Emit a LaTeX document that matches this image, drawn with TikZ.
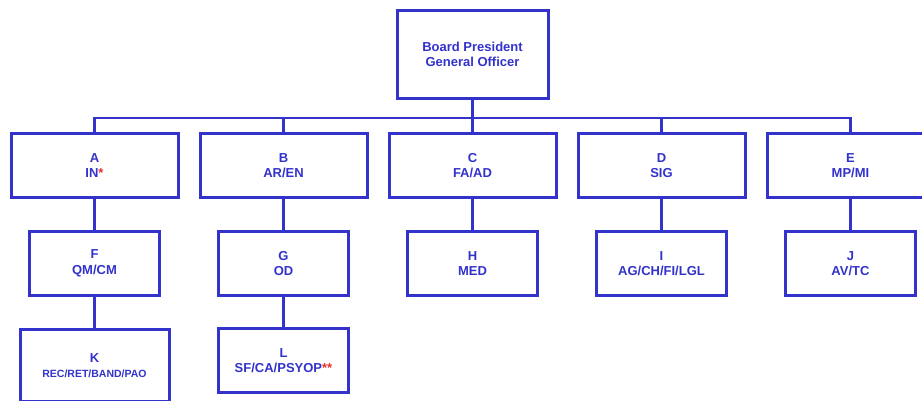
\documentclass[tikz,border=0pt]{standalone}
\usepackage{fontspec}
\setmainfont{Liberation Sans}
\usetikzlibrary{positioning}

\definecolor{orgblue}{RGB}{51,51,204}
\definecolor{starred}{RGB}{235,45,45}
\newcommand{\starmark}[1]{\textcolor{starred}{#1}}

\begin{document}
\begin{tikzpicture}[
    x=1pt, y=1pt,
    font=\fontsize{13}{15.5}\selectfont\bfseries,
    box/.style={draw=orgblue, line width=3pt, fill=white, text=orgblue,
                align=center, inner sep=2pt, outer sep=0pt},
    head/.style={box, minimum width=151pt, minimum height=88pt},
    branch/.style={box, minimum width=167pt, minimum height=64pt},
    unit/.style={box, minimum width=130pt, minimum height=64pt},
    link/.style={draw=orgblue, line width=2.6pt},
]
\useasboundingbox (0,0) rectangle (922,-400);
\clip (0,0) rectangle (922,-400);

% ---- Top ----------------------------------------------------------
\node[head] (pres) at (472.5,-54.5) {Board President\\General Officer};
\coordinate (bus) at (472.5,-118);

% ---- Branches -----------------------------------------------------
\node[branch] (A) at (94.5,-165.5) {A\\IN\starmark{*}};
\node[branch, right=22pt of A] (B) {B\\AR/EN};
\node[branch, right=22pt of B] (C) {C\\FA/AD};
\node[branch, right=22pt of C] (D) {D\\SIG};
\node[branch, right=22pt of D] (E) {E\\MP/MI};

% ---- Second level -------------------------------------------------
\node[unit, below=34pt of A] (F) {F\\QM/CM};
\node[unit, below=34pt of B] (G) {G\\OD};
\node[unit, below=34pt of C] (H) {H\\MED};
\node[unit, below=34pt of D] (I) {I\\AG/CH/FI/LGL};
\node[unit, below=34pt of E] (J) {J\\AV/TC};

% ---- Third level --------------------------------------------------
\node[unit, minimum width=149pt, minimum height=72pt, below=34pt of F] (K)
    {K\\{\fontsize{10.5}{12}\selectfont REC/RET/BAND/PAO}};
\node[unit, below=33pt of G] (L) {L\\SF/CA/PSYOP\starmark{**}};

% ---- Edges --------------------------------------------------------
\draw[link] (pres) -- (bus);
\draw[link] (A) |- (bus) -| (E);
\draw[link] (B) |- (bus);
\draw[link] (bus) -- (C);
\draw[link] (D) |- (bus);

\draw[link] (A) -- (F);
\draw[link] (B) -- (G);
\draw[link] (C) -- (H);
\draw[link] (D) -- (I);
\draw[link] (E) -- (J);
\draw[link] (F) -- (K);
\draw[link] (G) -- (L);

\end{tikzpicture}
\end{document}
